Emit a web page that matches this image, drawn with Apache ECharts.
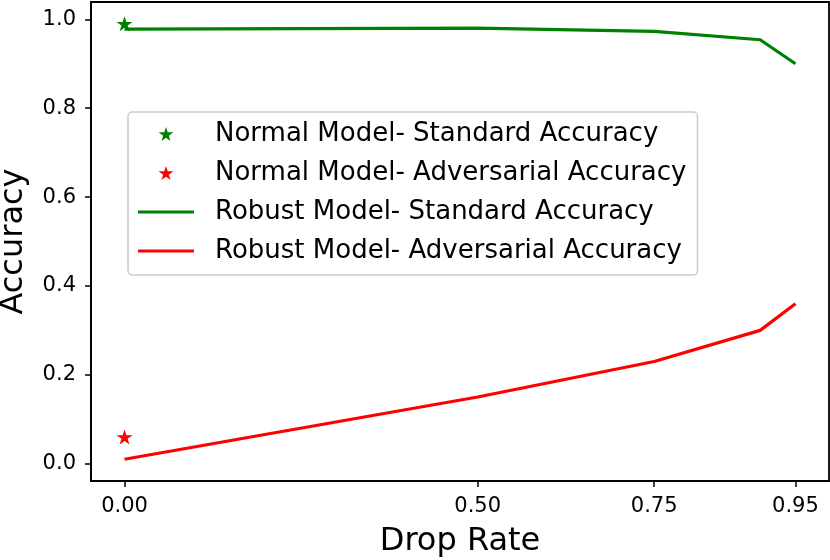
<!DOCTYPE html>
<html>
<head>
<meta charset="utf-8">
<script src="https://cdn.jsdelivr.net/npm/echarts@6/dist/echarts.min.js"></script>
<style>
html,body{margin:0;padding:0;background:#fff;}
#chart{width:830px;height:560px;}
</style>
</head>
<body>
<div id="chart"></div>
<script>
// ---- data ----
var dropRates = [0, 0.5, 0.75, 0.9, 0.95];
var robustStandard = [0.978, 0.98, 0.973, 0.954, 0.90];
var robustAdversarial = [0.01, 0.15, 0.23, 0.30, 0.36];
var normalDrop = [0];
var normalStandard = [0.99];
var normalAdversarial = [0.06];
var xTicks = [0, 0.5, 0.75, 0.95];
var yTicks = [0, 0.2, 0.4, 0.6, 0.8, 1.0];
var seriesNames = [
  'Normal Model- Standard Accuracy',
  'Normal Model- Adversarial Accuracy',
  'Robust Model- Standard Accuracy',
  'Robust Model- Adversarial Accuracy'
];

function zip(xs, ys) { return xs.map(function (x, i) { return [x, ys[i]]; }); }

var starPts = [[100,0],[122.45,69.1],[195.11,69.1],[136.33,111.8],[158.78,180.9],[100,138.2],[41.22,180.9],[63.67,111.8],[4.89,69.1],[77.55,69.1]];
var starPath = 'path://M' + starPts.map(function (p) { return p[0] + ',' + p[1]; }).join('L') + 'Z';

// star drawn small inside a 56x28 box (bounding box padded via move-to corners)
function legendStar() {
  var s = 0.78;
  return 'path://M0,0M560,280M' + starPts.map(function (p) {
    return (280 + (p[0] - 100) * s).toFixed(2) + ',' + (140 + (p[1] - 90.45) * s).toFixed(2);
  }).join('L') + 'Z';
}
// horizontal line segment filling the 56x28 legend box width
var legendLine = 'path://M0,0M560,280M0,124L560,124L560,156L0,156Z';

var font = 'DejaVu Sans';
var chart = echarts.init(document.getElementById('chart'), null, {renderer: 'canvas'});
chart.setOption({
  animation: false,
  backgroundColor: '#ffffff',
  textStyle: {fontFamily: font, color: '#000'},
  grid: {left: 91, right: 1, top: 2, bottom: 79, containLabel: false, outerBoundsMode: 'none',
    show: true, borderColor: '#000', borderWidth: 1.8, backgroundColor: 'transparent'},
  legend: {
    left: 128, top: 112, orient: 'vertical',
    itemWidth: 56, itemHeight: 28, itemGap: 11,
    padding: [8, 11, 10, 10],
    backgroundColor: 'rgba(255,255,255,0.8)',
    borderColor: '#cccccc', borderWidth: 1.5, borderRadius: 4,
    textStyle: {fontFamily: font, fontSize: 26, color: '#000', padding: [0, 0, 0, 16]},
    data: [
      {name: seriesNames[0], icon: legendStar()},
      {name: seriesNames[1], icon: legendStar()},
      {name: seriesNames[2], icon: legendLine},
      {name: seriesNames[3], icon: legendLine}
    ]
  },
  xAxis: {
    type: 'value', min: -0.0475, max: 0.9975,
    name: 'Drop Rate', nameLocation: 'middle', nameGap: 45,
    nameTextStyle: {fontFamily: font, fontSize: 32, color: '#000'},
    splitLine: {show: false},
    axisLine: {show: true, onZero: false, lineStyle: {color: '#000', width: 1.8}},
    axisTick: {show: true, length: 6, lineStyle: {color: '#000', width: 1.5}, customValues: xTicks},
    axisLabel: {show: true, margin: 15, fontFamily: font, fontSize: 21, color: '#000', customValues: xTicks,
      formatter: function (v) { return v.toFixed(2); }}
  },
  yAxis: {
    type: 'value', min: -0.039, max: 1.039,
    name: 'Accuracy', nameLocation: 'middle', nameGap: 61, nameRotate: 90,
    nameTextStyle: {fontFamily: font, fontSize: 32, color: '#000'},
    splitLine: {show: false},
    axisLine: {show: true, onZero: false, lineStyle: {color: '#000', width: 1.8}},
    axisTick: {show: true, length: 6, lineStyle: {color: '#000', width: 1.5}, customValues: yTicks},
    axisLabel: {show: true, margin: 15, fontFamily: font, fontSize: 21, color: '#000', customValues: yTicks,
      formatter: function (v) { return v.toFixed(1); }}
  },
  series: [
    {name: seriesNames[0], type: 'scatter', data: zip(normalDrop, normalStandard), symbol: starPath, symbolSize: [16, 15],
      itemStyle: {color: '#008000', opacity: 1}, z: 5},
    {name: seriesNames[1], type: 'scatter', data: zip(normalDrop, normalAdversarial), symbol: starPath, symbolSize: [16, 15],
      itemStyle: {color: '#ff0000', opacity: 1}, z: 5},
    {name: seriesNames[2], type: 'line', data: zip(dropRates, robustStandard), symbol: 'none', showSymbol: false,
      lineStyle: {color: '#008000', width: 3.2}, itemStyle: {color: '#008000'}},
    {name: seriesNames[3], type: 'line', data: zip(dropRates, robustAdversarial), symbol: 'none', showSymbol: false,
      lineStyle: {color: '#ff0000', width: 3.2}, itemStyle: {color: '#ff0000'}}
  ]
});
</script>
</body>
</html>
